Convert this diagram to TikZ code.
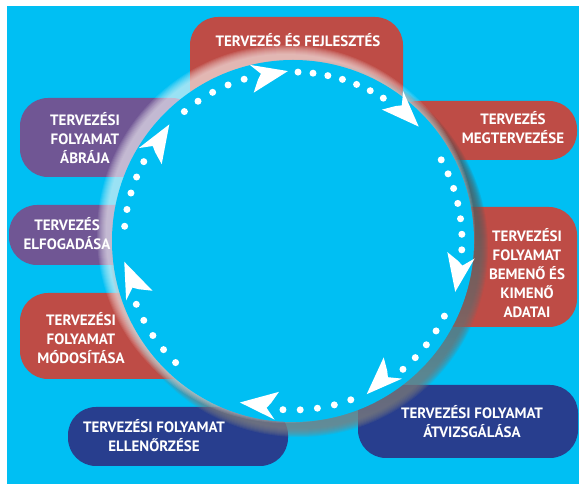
\documentclass[tikz,border=0pt]{standalone}
\usepackage{fontspec}
\setmainfont{PT Sans}
\usetikzlibrary{positioning, calc}
\definecolor{bgcyan}{RGB}{0,191,243}
\definecolor{boxred}{RGB}{190,76,70}
\definecolor{boxpurple}{RGB}{112,86,148}
\definecolor{boxnavy}{RGB}{40,62,142}
\definecolor{shade}{RGB}{10,40,90}

\begin{document}
\begin{tikzpicture}[x=1pt, y=1pt, box/.style = {rounded corners=28pt}, lbl/.style = {text=white, font=\bfseries\fontsize{15}{19}\selectfont, align=center, inner sep=0pt}, arrowhd/.style = {white}]
\useasboundingbox (0,0) rectangle (579,498);
\fill[white] (0,0) rectangle (579,498);
\fill[bgcyan] (7,14) rectangle (579,492);
\coordinate (c) at (293,257);

\fill[box, boxred] (190,383) rectangle (403,481);
\fill[box, boxred] (390,338) rectangle (577,397);
\fill[box, boxred] (420,171) rectangle (577,291);
\fill[box, boxnavy] (358,40) rectangle (578,113);
\fill[box, boxnavy] (68,32) rectangle (288,91);
\fill[box, boxred] (20,119) rectangle (200,205);
\fill[box, boxpurple] (9,233) rectangle (160,293);
\fill[box, boxpurple] (20,321) rectangle (200,400);

\node[lbl] (fejl) at (298,458) {TERVEZ\'ES \'ES FEJLESZT\'ES};
\node[lbl] (megt) at (513,370) {TERVEZ\'ES\\MEGTERVEZ\'ESE};
\node[lbl] (adat) at (527,225) {TERVEZ\'ESI\\FOLYAMAT\\BEMEN\H{O} \'ES\\KIMEN\H{O}\\ADATAI};
\node[lbl] (atvi) at (472,76) {TERVEZ\'ESI FOLYAMAT\\\'ATVIZSG\'AL\'ASA};
\node[lbl] (elle) at (154,62) {TERVEZ\'ESI FOLYAMAT\\ELLEN\H{O}RZ\'ESE};
\node[lbl] (modo) at (81,160) {TERVEZ\'ESI\\FOLYAMAT\\M\'ODOS\'IT\'ASA};
\node[lbl] (elfo) at (67,264) {TERVEZ\'ES\\ELFOGAD\'ASA};
\node[lbl] (abra) at (85,360) {TERVEZ\'ESI\\FOLYAMAT\\\'ABR\'AJA};

\foreach \k in {1,...,9} \fill[shade, opacity=0.08] ($(c)+(6,-7)$) circle ({180+\k});
\foreach \k in {1,...,10} \fill[white, opacity=0.09] ($(c)+(-7,7)$) circle ({179+\k});
\fill[bgcyan] (c) circle (181);

\foreach \a/\b/\n in {88.3/57.7/7, 28.7/-3/7, -26.4/-49.4/5, -70/-93.4/5, -134/-158/5, 175/152/5, 130/106.8/5}
  \foreach \i in {1,...,\n}
    \fill[white] ($(c)+({\a+(\b-\a)*(\i-1)/(\n-1)}:169)$) circle (3.5);

\foreach \t/\d in {91.7/12, 42.3/-45, -17.4/-99, -64.3/-135, -108.2/175, 187/114, 136.7/59}
  \fill[arrowhd, shift={($(c)+(\t:170)$)}, rotate=\d] (0,0) -- (-36,14) -- (-27,3) -- (-31,-2) -- (-38,-14) -- cycle;
\end{tikzpicture}
\end{document}
